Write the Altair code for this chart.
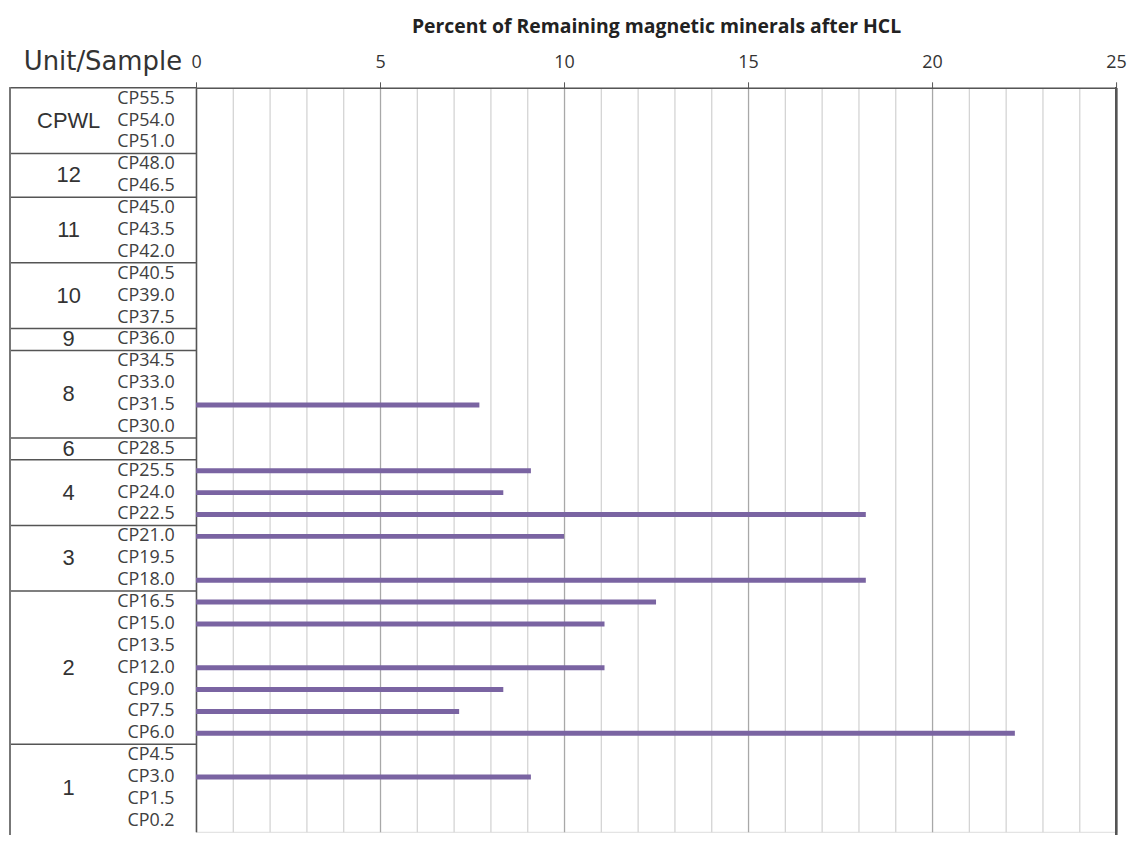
import altair as alt
import pandas as pd

# Samples (top to bottom) and their unit
samples = ["CP55.5", "CP54.0", "CP51.0", "CP48.0", "CP46.5", "CP45.0", "CP43.5",
           "CP42.0", "CP40.5", "CP39.0", "CP37.5", "CP36.0", "CP34.5", "CP33.0",
           "CP31.5", "CP30.0", "CP28.5", "CP25.5", "CP24.0", "CP22.5", "CP21.0",
           "CP19.5", "CP18.0", "CP16.5", "CP15.0", "CP13.5", "CP12.0", "CP9.0",
           "CP7.5", "CP6.0", "CP4.5", "CP3.0", "CP1.5", "CP0.2"]
values = [None, None, None, None, None, None, None,
          None, None, None, None, None, None, None,
          7.7, None, None, 9.1, 8.35, 18.2, 10.0,
          None, 18.2, 12.5, 11.1, None, 11.1, 8.35,
          7.15, 22.25, None, 9.1, None, None]

units = ["CPWL", "12", "11", "10", "9", "8", "6", "4", "3", "2", "1"]
unit_sizes = [3, 2, 3, 3, 1, 4, 1, 3, 3, 7, 4]

x_ticks = list(range(0, 26))

ROW = 22.0
N = len(samples)
PLOT_W = 925
PLOT_H = int(ROW * N)

df = pd.DataFrame({"sample": samples, "value": values})

# group info
firsts, odd_rows, even_rows = [], [], []
i = 0
for u, n in zip(units, unit_sizes):
    firsts.append(samples[i])
    if n % 2 == 1:
        odd_rows.append({"unit": u, "anchor": samples[i + n // 2]})
    else:
        even_rows.append({"unit": u, "anchor": samples[i + n // 2 - 1]})
    i += n
df_first = pd.DataFrame({"first": firsts})
df_odd = pd.DataFrame(odd_rows)
df_even = pd.DataFrame(even_rows)

yscale = alt.Scale(domain=samples, range=[0, ROW * N], paddingInner=0, paddingOuter=0)
xscale = alt.Scale(domain=[0, 25], nice=False, zero=True)

major = "datum.value % 5 === 0"

x_axis = alt.Axis(
    orient="top",
    values=x_ticks,
    grid=True,
    gridColor={"condition": {"test": major, "value": "#a8a8a8"}, "value": "#d4d4d4"},
    gridWidth=1.3,
    tickOpacity={"condition": {"test": major, "value": 1}, "value": 0},
    tickSize=6,
    tickColor="#555555",
    labelExpr=f"{major} ? datum.label : ''",
    labelFont="Open Sans",
    labelFontSize=18,
    labelColor="#333333",
    labelPadding=10,
    labelFlush=False,
    domainColor="#555555",
    domainWidth=1.5,
    title="Percent of Remaining magnetic minerals after HCL",
    titleFont="Open Sans",
    titleFontSize=19.5,
    titleFontWeight="bold",
    titleColor="#222222",
    titlePadding=18,
)

y_axis = alt.Axis(
    orient="left",
    ticks=False,
    grid=False,
    domain=True,
    domainColor="#555555",
    domainWidth=1.5,
    labelFont="Open Sans",
    labelFontSize=18,
    labelColor="#404040",
    labelPadding=22,
    title=None,
)

bars = alt.Chart(df).mark_bar(size=5, color="#7a64a2").encode(
    x=alt.X("value:Q", scale=xscale, axis=x_axis),
    y=alt.Y("sample:N", scale=yscale, axis=y_axis),
)

seps = alt.Chart(df_first).mark_rule(color="#555555", strokeWidth=1.5).encode(
    y=alt.Y("first:N", scale=yscale, bandPosition=0),
    x=alt.value(-187),
    x2=alt.value(0),
)

left_line = alt.Chart(df_first).mark_rule(color="#777777", strokeWidth=1.5).encode(
    x=alt.value(-187),
    y=alt.value(0),
    y2=alt.value(820),
)

right_line = alt.Chart(df_first).mark_rule(color="#555555", strokeWidth=2).encode(
    x=alt.value(PLOT_W),
    y=alt.value(0),
    y2=alt.value(820),
)

unit_odd = alt.Chart(df_odd).mark_text(
    font="Liberation Sans", fontSize=22, color="#333333", align="center", baseline="middle"
).encode(
    y=alt.Y("anchor:N", scale=yscale, bandPosition=0.5),
    x=alt.value(-128),
    text="unit:N",
)

unit_even = alt.Chart(df_even).mark_text(
    font="Liberation Sans", fontSize=22, color="#333333", align="center", baseline="middle"
).encode(
    y=alt.Y("anchor:N", scale=yscale, bandPosition=1),
    x=alt.value(-128),
    text="unit:N",
)

header = alt.Chart(pd.DataFrame({"t": ["Unit/Sample"]})).mark_text(
    font="DejaVu Sans", fontSize=26, color="#333333", align="right", baseline="middle"
).encode(
    x=alt.value(-14),
    y=alt.value(-26),
    text="t:N",
)

chart = alt.layer(bars, seps, left_line, right_line, unit_odd, unit_even, header).properties(
    width=PLOT_W,
    height=PLOT_H,
    autosize=alt.AutoSizeParams(type="none"),
    padding={"left": 189, "top": 78, "right": 14, "bottom": 1},
).configure_view(stroke=None).configure(background="white")

chart.save("out.html", embed_options={"renderer": "svg", "actions": False})
